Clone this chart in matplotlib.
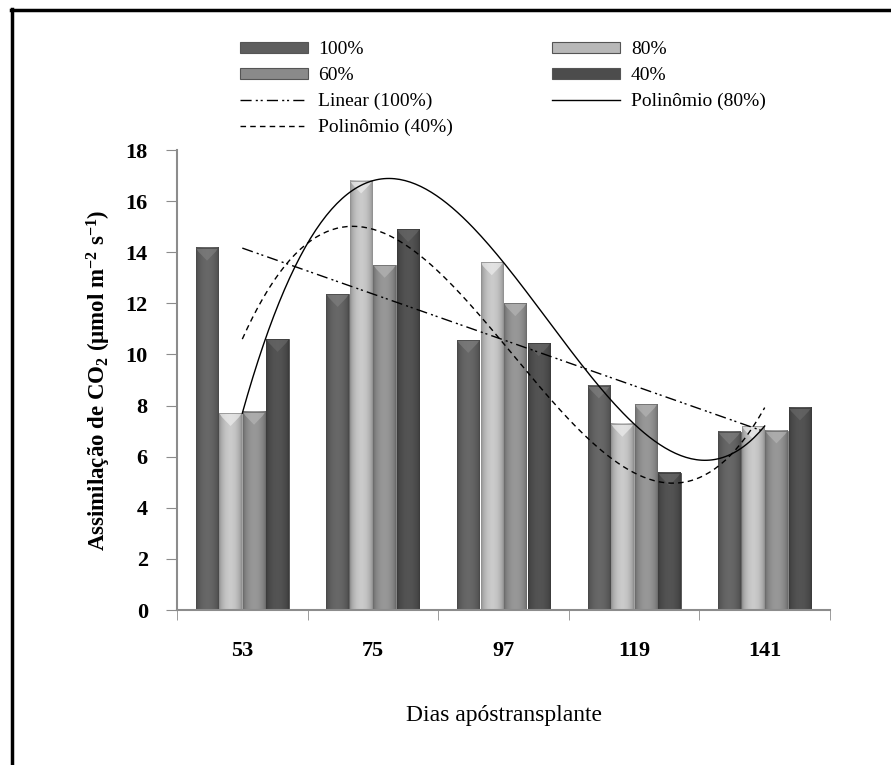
import numpy as np
import matplotlib
matplotlib.use('Agg')
from matplotlib import pyplot as plt
from matplotlib.patches import Patch, Polygon
from matplotlib.lines import Line2D

# dias após transplante e assimilação de CO2 por lâmina de irrigação
dias = ['53', '75', '97', '119', '141']
series_names = ['100%', '80%', '60%', '40%']
a100 = [14.17, 12.36, 10.56, 8.78, 6.98]
a80 = [7.70, 16.80, 13.60, 7.28, 7.20]
a60 = [7.75, 13.50, 12.00, 8.05, 7.02]
a40 = [10.60, 14.90, 10.43, 5.37, 7.92]
yticks = list(range(0, 19, 2))

values = [a100, a80, a60, a40]
colors = ['#5e5e5e', '#b8b8b8', '#8a8a8a', '#4c4c4c']

plt.rcParams['font.family'] = ['Liberation Serif', 'DejaVu Serif']
plt.rcParams['mathtext.fontset'] = 'custom'
plt.rcParams['mathtext.rm'] = 'Liberation Serif:bold'
plt.rcParams['mathtext.it'] = 'Liberation Serif:bold'
plt.rcParams['mathtext.bf'] = 'Liberation Serif:bold'

fig = plt.figure(figsize=(8.91, 7.65), dpi=100)
ax = fig.add_axes([177 / 891, 1 - 610 / 765, (830 - 177) / 891, 460 / 765])

# moldura (apenas topo e esquerda)
fig.add_artist(Line2D([12 / 891, 12 / 891], [0, 1 - 9 / 765], color='black', lw=2.5,
                      transform=fig.transFigure))
fig.add_artist(Line2D([11 / 891, 1], [1 - 10 / 765, 1 - 10 / 765], color='black', lw=2.5,
                      transform=fig.transFigure))

xx = np.arange(len(dias))
w = 0.18
offsets = np.array([-1.5, -0.5, 0.5, 1.5]) * w

# perfil cilíndrico das barras
t = np.linspace(0, 1, 40)
shade = 0.76 + 0.34 * np.sin(np.pi * t) ** 0.6

for vals, col, off in zip(values, colors, offsets):
    base = np.array(matplotlib.colors.to_rgb(col))
    grad = np.clip(base[None, None, :] * shade[None, :, None], 0, 1)
    for x, h in zip(xx + off, vals):
        x0, x1 = x - w / 2 + 0.004, x + w / 2 - 0.004
        ax.imshow(grad, extent=(x0, x1, 0, h), aspect='auto', zorder=1,
                  interpolation='bilinear')
        cap = np.clip(base * 1.25 + 0.04, 0, 1)
        ax.add_patch(Polygon([(x0, h), (x1, h), (x1 - 0.02, h - 0.15),
                              (x, h - 0.5), (x0 + 0.02, h - 0.15)], closed=True,
                             facecolor=cap, edgecolor='none', alpha=0.65, zorder=2))
        ax.add_patch(Polygon([(x0, 0), (x1, 0), (x1, h), (x0, h)], closed=True,
                             facecolor='none', edgecolor=base * 0.8, lw=0.6, zorder=2))

# linhas de tendência
xs = np.linspace(0, 4, 200)
lin100 = np.polyval(np.polyfit(xx, a100, 1), xs)
pol80 = np.polyval(np.polyfit(xx, a80, 4), xs)
pol40 = np.polyval(np.polyfit(xx, a40, 4), xs)
l_lin, = ax.plot(xs, lin100, color='black', lw=1.0,
                 linestyle=(0, (8, 3, 1.5, 2, 1.5, 3)), zorder=3)
l_p80, = ax.plot(xs, pol80, color='black', lw=1.0, zorder=3)
l_p40, = ax.plot(xs, pol40, color='black', lw=1.0, linestyle=(0, (4, 3)), zorder=3)

ax.set_xlim(-0.5, 4.5)
ax.set_ylim(0, 18)
ax.set_yticks(yticks)
ax.set_xticks(xx)
ax.set_xticklabels(dias)
ax.set_xticks(np.arange(-0.5, 5, 1), minor=True)
ax.tick_params(axis='x', which='major', length=0, pad=22, labelsize=16)
ax.tick_params(axis='x', which='minor', length=7, color='#8c8c8c', direction='out')
ax.tick_params(axis='y', length=8, color='#8c8c8c', pad=13, labelsize=16)
for lab in ax.get_xticklabels() + ax.get_yticklabels():
    lab.set_fontweight('bold')
for s in ['top', 'right']:
    ax.spines[s].set_visible(False)
for s in ['left', 'bottom']:
    ax.spines[s].set_color('#8c8c8c')
    ax.spines[s].set_linewidth(1.5)

ax.set_ylabel('Assimilação de CO$_2$ (µmol m$^{-2}$ s$^{-1}$)', fontsize=16.5,
              fontweight='bold', labelpad=9)
ax.set_xlabel('Dias apóstransplante', fontsize=17, labelpad=32)

# legenda em duas colunas (ordem por linha)
h = [Patch(facecolor=c, edgecolor='#555555', lw=0.8) for c in colors]
handles = [h[0], h[2], l_lin, l_p40, h[1], h[3], l_p80]
labels = ['100%', '60%', 'Linear (100%)', 'Polinômio (40%)',
          '80%', '40%', 'Polinômio (80%)']
fig.legend(handles, labels, ncol=2, loc='upper left',
           bbox_to_anchor=(222 / 891, 1 - 24 / 765), frameon=False,
           fontsize=14, handlelength=3.5, handleheight=0.5, handletextpad=0.55,
           labelspacing=0.45, columnspacing=5.1)

fig.savefig('out.png', dpi=100)
